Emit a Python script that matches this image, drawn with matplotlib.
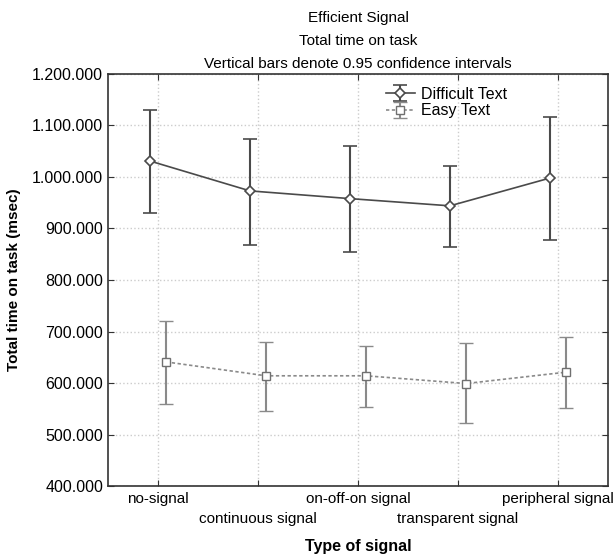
import numpy as np
import matplotlib
matplotlib.use("Agg")
import matplotlib.pyplot as plt
from matplotlib.ticker import FuncFormatter

plt.rcParams['font.family'] = ['Liberation Sans', 'DejaVu Sans']

# data
categories = ["no-signal", "continuous signal", "on-off-on signal",
              "transparent signal", "peripheral signal"]
difficult_mean = [1031000, 973000, 958000, 944000, 998000]
difficult_hi = [1130000, 1074000, 1060000, 1021000, 1117000]
difficult_lo = [930000, 868000, 854000, 865000, 877000]
easy_mean = [641000, 614000, 614000, 599000, 621000]
easy_hi = [721000, 680000, 672000, 678000, 689000]
easy_lo = [560000, 546000, 554000, 522000, 551000]
y_ticks = [400000, 500000, 600000, 700000, 800000, 900000,
           1000000, 1100000, 1200000]

x = np.arange(len(categories))
d_mean = np.array(difficult_mean)
e_mean = np.array(easy_mean)
d_err = [d_mean - np.array(difficult_lo), np.array(difficult_hi) - d_mean]
e_err = [e_mean - np.array(easy_lo), np.array(easy_hi) - e_mean]

fig = plt.figure(figsize=(6.15, 5.6), dpi=100)
ax = fig.add_axes([0.1756, 0.1321, 0.813, 0.7358])

dcol = "#4a4a4a"
ecol = "#8a8a8a"
h1 = ax.errorbar(x - 0.08, d_mean, yerr=d_err, color=dcol, lw=1.2,
                 marker="D", ms=5, mfc="white", mec=dcol, mew=1.2,
                 capsize=5, elinewidth=1.5, capthick=1.3, label="Difficult Text")
h2 = ax.errorbar(x + 0.08, e_mean, yerr=e_err, color=ecol, lw=1.2,
                 ls=(0, (2, 1.5)), marker="s", ms=6, mfc="white", mec="#707070",
                 mew=1.0, capsize=5, elinewidth=1.5, capthick=1.3,
                 label="Easy Text")

ax.set_xlim(-0.5, 4.5)
ax.set_ylim(400000, 1200000)
ax.set_yticks(y_ticks)
ax.yaxis.set_major_formatter(FuncFormatter(lambda v, p: f"{int(v):,}".replace(",", ".")))
ax.set_xticks(x)
ax.set_xticklabels(categories)

ax.grid(True, color="#cccccc", ls=":", lw=1.0)
ax.tick_params(direction="in", top=True, right=True, length=4, labelsize=11.5,
               color="#333333")
ax.tick_params(axis="x", labelsize=11)
# staggered category labels
for i, t in enumerate(ax.xaxis.get_major_ticks()):
    t.set_pad(4 if i % 2 == 0 else 19)
for s in ax.spines.values():
    s.set_color("#333333")
    s.set_linewidth(1.2)

ax.set_xlabel("Type of signal", fontsize=11.5, fontweight="bold", labelpad=9)
ax.set_ylabel("Total time on task (msec)", fontsize=11, fontweight="bold", labelpad=8)
ax.set_title("Efficient Signal\nTotal time on task\nVertical bars denote 0.95 confidence intervals",
             fontsize=11, linespacing=1.85, pad=4)

ax.legend(handles=[h1, h2], loc="upper left", bbox_to_anchor=(0.53, 1.0),
          frameon=False, fontsize=11.5, handlelength=1.8, handletextpad=0.4,
          borderpad=0.3, labelspacing=0.1)

fig.savefig("out.png", dpi=100)
